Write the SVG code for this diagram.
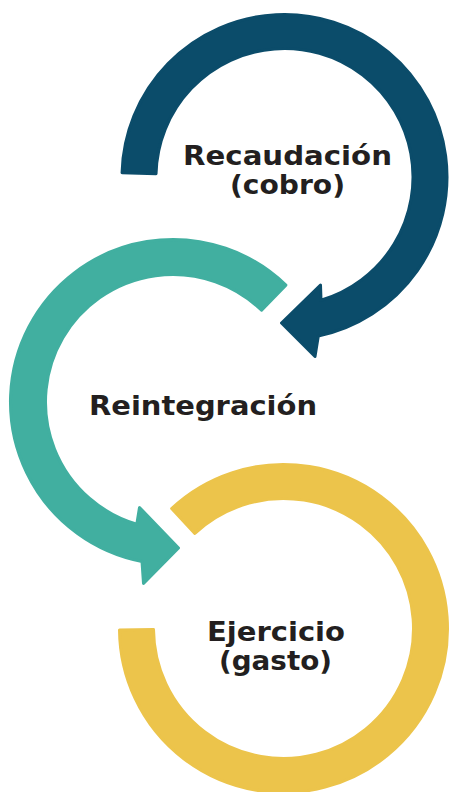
<svg xmlns="http://www.w3.org/2000/svg" width="450" height="792" viewBox="0 0 450 792">
  <style>
    .arc { stroke-width: 3; stroke-linejoin: round; }
    .blue { fill: #0b4c6a; stroke: #0b4c6a; }
    .teal { fill: #41afa0; stroke: #41afa0; }
    .yellow { fill: #ecc44b; stroke: #ecc44b; }
    .label { font-family: "DejaVu Sans", "Liberation Sans", sans-serif; font-weight: 700; font-size: 26px; fill: #231f20; text-anchor: middle; }
  </style>
  <rect width="450" height="792" fill="#ffffff"/>
  <g id="connectors">
    <path id="arrow-recaudacion" class="arc blue" d="M 122.06 172.75 A 162.5 162.5 0 1 1 318.3 335.95 L 315 356.5 L 281.5 323 L 320.5 285 L 321 300.2 A 128.5 128.5 0 1 0 156.04 173.64 Z"/>
    <path id="arrow-reintegracion" class="arc teal" d="M 285.88 285.11 A 162.5 162.5 0 1 0 142 561.5 L 143.5 583.5 L 178.5 548 L 139.5 507.5 L 136.8 524.25 A 127.5 127.5 0 1 1 261.57 310.28 Z"/>
    <path id="ring-ejercicio" class="arc yellow" d="M 119.5 629.9 A 164 164 0 1 0 171.65 508.56 L 194.84 533.42 A 130 130 0 1 1 153.5 629.6 Z"/>
  </g>
  <g id="node-recaudacion">
    <text class="label" x="287.5" y="165" textLength="209" lengthAdjust="spacingAndGlyphs">Recaudación</text>
    <text class="label" x="287.5" y="194" textLength="115" lengthAdjust="spacingAndGlyphs">(cobro)</text>
  </g>
  <g id="node-reintegracion">
    <text class="label" x="203" y="415" textLength="228" lengthAdjust="spacingAndGlyphs">Reintegración</text>
  </g>
  <g id="node-ejercicio">
    <text class="label" x="276" y="641" textLength="138" lengthAdjust="spacingAndGlyphs">Ejercicio</text>
    <text class="label" x="275.5" y="670" textLength="113" lengthAdjust="spacingAndGlyphs">(gasto)</text>
  </g>
</svg>
